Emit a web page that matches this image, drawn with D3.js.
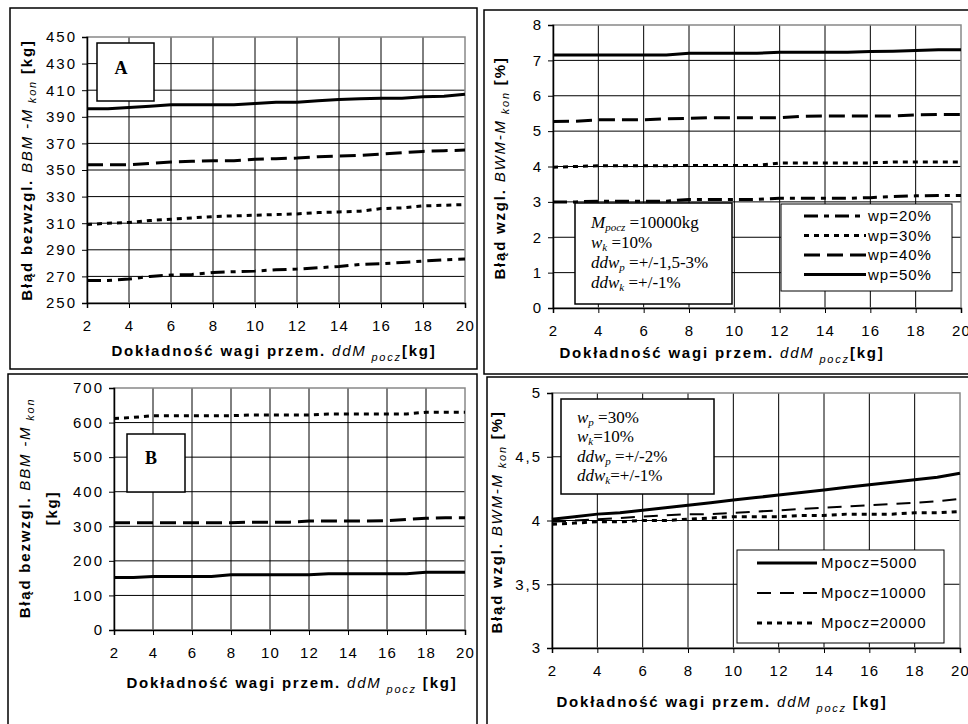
<!DOCTYPE html>
<html lang="pl">
<head>
<meta charset="UTF-8">
<title>Błąd ważenia</title>
<script src="https://cdn.jsdelivr.net/npm/d3@7/dist/d3.min.js"></script>
<style>
  body { margin: 0; background: #fff; }
  svg { display: block; }
  .tick text { font-family: "Liberation Sans", Arial, sans-serif; font-size: 15px; letter-spacing: 1.2px; }
  .yax .tick text { letter-spacing: 2px; }
  .title { font-family: "Liberation Sans", Arial, sans-serif; font-size: 15px; font-weight: bold; letter-spacing: 1.8px; }
  .note { font-family: "Liberation Serif", "Times New Roman", serif; font-size: 17px; }
  .leg { font-family: "Liberation Sans", Arial, sans-serif; font-size: 15px; letter-spacing: 1px; }
</style>
</head>
<body>
<svg width="968" height="724" id="mainsvg"></svg>
<script>
// wspólna oś X
const xVals = [2,3,4,5,6,7,8,9,10,11,12,13,14,15,16,17,18,19,20];
const xTicks = [2,4,6,8,10,12,14,16,18,20];

// A: BBM-Mkon [kg], Mpocz=10000
const aWp20 = [267,267,268,270,271,271.5,273,273.5,274,275,275.5,276.5,277.5,279,279.5,280.5,281.5,282.5,283];
const aWp30 = [309,310,310.5,312,313,314,315,315.5,316,316.5,317,318,318.5,319,321,321.5,323,323.5,324];
const aWp40 = [354,354,354,355,356,356.5,357,357,358,358.5,359,360,360.5,361,362,363,364,364.5,365];
const aWp50 = [396,396,397,398,399,399,399,399,400,401,401,402,403,403.5,404,404,405,405.5,407];
const aTicks = [250,270,290,310,330,350,370,390,410,430,450];

// B (prawy górny): BWM-Mkon [%]
const bWp20 = [3.0,3.0,3.02,3.02,3.02,3.02,3.07,3.07,3.07,3.07,3.1,3.1,3.1,3.1,3.12,3.15,3.17,3.18,3.18];
const bWp30 = [3.98,4.0,4.02,4.02,4.02,4.02,4.03,4.03,4.03,4.03,4.1,4.1,4.1,4.1,4.1,4.13,4.13,4.13,4.13];
const bWp40 = [5.27,5.28,5.32,5.32,5.32,5.35,5.36,5.38,5.38,5.38,5.38,5.42,5.43,5.43,5.43,5.43,5.46,5.47,5.47];
const bWp50 = [7.15,7.15,7.15,7.15,7.15,7.15,7.2,7.2,7.2,7.2,7.23,7.23,7.23,7.23,7.25,7.26,7.28,7.3,7.3];
const bTicks = [0,1,2,3,4,5,6,7,8];

// C (lewy dolny, "B"): BBM-Mkon [kg]
const cM5000 = [152,152,155,155,155,155,160,160,160,160,160,163,163,163,163,163,167,167,167];
const cM10000 = [310,310,310,310,310,310,310,312,312,312,315,315,315,315,316,320,323,325,325];
const cM20000 = [612,615,620,620,620,620,620,622,622,622,622,625,625,625,625,625,630,630,630];
const cTicks = [0,100,200,300,400,500,600,700];

// D (prawy dolny): BWM-Mkon [%]
const dM5000 = [4.01,4.03,4.05,4.06,4.08,4.10,4.12,4.14,4.16,4.18,4.20,4.22,4.24,4.26,4.28,4.30,4.32,4.34,4.37];
const dM10000 = [3.99,4.0,4.01,4.02,4.03,4.04,4.05,4.05,4.06,4.07,4.08,4.09,4.10,4.11,4.12,4.13,4.14,4.15,4.17];
const dM20000 = [3.97,3.98,3.99,3.99,4.0,4.0,4.01,4.02,4.03,4.03,4.03,4.04,4.04,4.05,4.05,4.05,4.06,4.06,4.07];
const dTicks = [3,3.5,4,4.5,5];

const svg = d3.select('svg');
const fmtComma = d => String(d).replace('.', ',');

// style linii
const st = {
  solid:    {dash: null, w: 3},
  longDash: {dash: '16,7', w: 3},
  dots:     {dash: '5,5', w: 3},
  dashDot:  {dash: '14,6,5,6', w: 3},
  thinDash: {dash: '14,9', w: 2}
};

// ramki paneli
[[10,8,467,361],[484,10,490,364],[8,374,469,360],[487,377,490,360]].forEach(r => {
  svg.append('rect').attr('x', r[0]).attr('y', r[1]).attr('width', r[2]).attr('height', r[3])
    .attr('fill', 'none').attr('stroke', '#000').attr('stroke-width', 1.5);
});

function panel(p) {
  const x = d3.scaleLinear().domain([2, 20]).range([p.x0, p.x1]);
  const y = d3.scaleLinear().domain(p.yDomain).range([p.y1, p.y0]);
  const g = svg.append('g');

  // siatka
  g.append('g').selectAll('line').data(xTicks.slice(1, -1)).join('line')
    .attr('x1', d => x(d)).attr('x2', d => x(d)).attr('y1', p.y0).attr('y2', p.y1)
    .attr('stroke', '#000').attr('stroke-width', 1);
  g.append('g').selectAll('line').data(p.yTicks.slice(1, -1)).join('line')
    .attr('x1', p.x0).attr('x2', p.x1).attr('y1', d => y(d)).attr('y2', d => y(d))
    .attr('stroke', '#000').attr('stroke-width', 1);
  g.append('rect').attr('x', p.x0).attr('y', p.y0).attr('width', p.x1 - p.x0).attr('height', p.y1 - p.y0)
    .attr('fill', 'none').attr('stroke', '#888').attr('stroke-width', 1.5);

  // osie
  const xa = g.append('g').attr('transform', `translate(0,${p.y1})`)
    .call(d3.axisBottom(x).tickValues(xTicks).tickSize(5).tickPadding(p.xPad || 12));
  const ya = g.append('g').attr('class', 'yax').attr('transform', `translate(${p.x0},0)`)
    .call(d3.axisLeft(y).tickValues(p.yTicks).tickSize(5).tickPadding(5).tickFormat(p.yFmt || (d => d)));
  [xa, ya].forEach(a => {
    a.select('.domain').attr('stroke', '#000').attr('stroke-width', 1.5);
    a.selectAll('.tick line').attr('stroke', '#000');
    a.selectAll('.tick text').attr('fill', '#000');
  });

  // serie
  const line = d3.line().x((d, i) => x(xVals[i])).y(d => y(d));
  p.series.forEach(s => {
    g.append('path').datum(s.v).attr('d', line).attr('fill', 'none')
      .attr('stroke', '#000').attr('stroke-width', s.st.w)
      .attr('stroke-dasharray', s.st.dash);
  });

  // tytuł osi X
  const xt = g.append('text').attr('class', 'title').attr('text-anchor', 'middle')
    .attr('x', p.xtX).attr('y', p.xtY);
  xt.append('tspan').text('Dokładność wagi przem. ');
  xt.append('tspan').attr('font-style', 'italic').attr('font-weight', 'normal').text('ddM');
  xt.append('tspan').attr('font-style', 'italic').attr('font-weight', 'normal')
    .attr('font-size', '11px').attr('dy', 5).text(' pocz');
  xt.append('tspan').attr('dy', -5).text(p.xtGap ? '  [kg]' : '[kg]');

  // tytuł osi Y
  const yt = g.append('text').attr('class', 'title').attr('text-anchor', 'middle')
    .attr('transform', `translate(${p.ytX},${p.ytY}) rotate(-90)`);
  yt.append('tspan').text(p.yPrefix + ' ');
  yt.append('tspan').attr('font-style', 'italic').attr('font-weight', 'normal').text(p.yVar + '-M');
  yt.append('tspan').attr('font-style', 'italic').attr('font-weight', 'normal')
    .attr('font-size', '11px').attr('dy', 4).text(' kon');
  if (p.ySuffix2) {
    g.append('text').attr('class', 'title').attr('text-anchor', 'middle')
      .attr('transform', `translate(${p.ytX + 27},${p.ytY}) rotate(-90)`).text(p.ySuffix2);
  } else {
    yt.append('tspan').attr('dy', -4).text(' ' + p.ySuffix);
  }
  return {x, y, g};
}

// ---- A ----
const A = panel({
  x0: 87, x1: 465, y0: 37, y1: 303, yDomain: [250, 450], yTicks: aTicks,
  series: [{v: aWp20, st: st.dashDot}, {v: aWp30, st: st.dots}, {v: aWp40, st: st.longDash}, {v: aWp50, st: st.solid}],
  xtX: 274, xtY: 356, ytX: 32, ytY: 170,
  yPrefix: 'Błąd bezwzgl.', yVar: 'BBM ', ySuffix: '[kg]'
});
A.g.append('rect').attr('x', 97).attr('y', 43).attr('width', 57).attr('height', 58)
  .attr('fill', '#fff').attr('stroke', '#000').attr('stroke-width', 1.5);
A.g.append('text').attr('x', 121).attr('y', 74).attr('text-anchor', 'middle')
  .attr('font-family', '"Liberation Serif", serif').attr('font-weight', 'bold').attr('font-size', 18).text('A');

// ---- prawy górny ----
const B = panel({
  x0: 553, x1: 961, y0: 25, y1: 308, yDomain: [0, 8], yTicks: bTicks,
  series: [{v: bWp20, st: st.dashDot}, {v: bWp30, st: st.dots}, {v: bWp40, st: st.longDash}, {v: bWp50, st: st.solid}],
  xtX: 722, xtY: 358, ytX: 505, ytY: 168,
  yPrefix: 'Błąd wzgl.', yVar: 'BWM', ySuffix: '[%]'
});
// ramka z parametrami
B.g.append('rect').attr('x', 575).attr('y', 203).attr('width', 157).attr('height', 101)
  .attr('fill', '#fff').attr('stroke', '#000').attr('stroke-width', 1.5);
const bNotes = [['M', 'pocz', ' =10000kg'], ['w', 'k', ' =10%'], ['ddw', 'p', ' =+/-1,5-3%'], ['ddw', 'k', ' =+/-1%']];
bNotes.forEach((n, i) => {
  const t = B.g.append('text').attr('class', 'note').attr('x', 591).attr('y', 228 + i * 20);
  t.append('tspan').attr('font-style', 'italic').text(n[0]);
  t.append('tspan').attr('font-style', 'italic').attr('font-size', 11).attr('dy', 3).text(n[1]);
  t.append('tspan').attr('dy', -3).text(n[2]);
});
// legenda
B.g.append('rect').attr('x', 781).attr('y', 204).attr('width', 171).attr('height', 87)
  .attr('fill', '#fff').attr('stroke', '#000').attr('stroke-width', 1);
const bLeg = [['wp=20%', st.dashDot], ['wp=30%', st.dots], ['wp=40%', st.longDash], ['wp=50%', st.solid]];
bLeg.forEach((l, i) => {
  const yy = 216 + i * 19.5;
  B.g.append('line').attr('x1', 804).attr('x2', 866).attr('y1', yy).attr('y2', yy)
    .attr('stroke', '#000').attr('stroke-width', l[1].w).attr('stroke-dasharray', l[1].dash);
  B.g.append('text').attr('class', 'leg').attr('x', 868).attr('y', yy + 5).text(l[0]);
});

// ---- lewy dolny ("B") ----
const C = panel({
  x0: 114, x1: 465, y0: 388, y1: 630, yDomain: [0, 700], yTicks: cTicks,
  series: [{v: cM5000, st: st.solid}, {v: cM10000, st: st.longDash}, {v: cM20000, st: st.dots}],
  xtX: 292, xtY: 688, ytX: 30, ytY: 508, xtGap: true,
  yPrefix: 'Błąd bezwzgl.', yVar: 'BBM ', ySuffix2: '[kg]'
});
C.g.append('rect').attr('x', 127).attr('y', 434).attr('width', 58).attr('height', 58)
  .attr('fill', '#fff').attr('stroke', '#000').attr('stroke-width', 1.5);
C.g.append('text').attr('x', 151).attr('y', 464).attr('text-anchor', 'middle')
  .attr('font-family', '"Liberation Serif", serif').attr('font-weight', 'bold').attr('font-size', 18).text('B');

// ---- prawy dolny ----
const D = panel({
  x0: 552, x1: 960, y0: 393, y1: 648, yDomain: [3, 5], yTicks: dTicks, yFmt: fmtComma,
  series: [{v: dM20000, st: st.dots}, {v: dM10000, st: st.thinDash}, {v: dM5000, st: st.solid}],
  xtX: 722, xtY: 707, ytX: 502, ytY: 522, xtGap: true,
  yPrefix: 'Błąd wzgl.', yVar: 'BWM', ySuffix: '[%]'
});
D.g.append('rect').attr('x', 561).attr('y', 399).attr('width', 153).attr('height', 95)
  .attr('fill', '#fff').attr('stroke', '#000').attr('stroke-width', 1.5);
const dNotes = [['w', 'p', ' =30%'], ['w', 'k', '=10%'], ['ddw', 'p', ' =+/-2%'], ['ddw', 'k', '=+/-1%']];
dNotes.forEach((n, i) => {
  const t = D.g.append('text').attr('class', 'note').attr('x', 577).attr('y', 423 + i * 19.3);
  t.append('tspan').attr('font-style', 'italic').text(n[0]);
  t.append('tspan').attr('font-style', 'italic').attr('font-size', 11).attr('dy', 3).text(n[1]);
  t.append('tspan').attr('dy', -3).text(n[2]);
});
D.g.append('rect').attr('x', 737).attr('y', 550).attr('width', 207).attr('height', 93)
  .attr('fill', '#fff').attr('stroke', '#000').attr('stroke-width', 1);
const dLeg = [['Mpocz=5000', st.solid], ['Mpocz=10000', st.thinDash], ['Mpocz=20000', st.dots]];
dLeg.forEach((l, i) => {
  const yy = 563 + i * 30;
  D.g.append('line').attr('x1', 757).attr('x2', 817).attr('y1', yy).attr('y2', yy)
    .attr('stroke', '#000').attr('stroke-width', l[1].w).attr('stroke-dasharray', l[1].dash);
  D.g.append('text').attr('class', 'leg').attr('x', 821).attr('y', yy + 5).text(l[0]);
});
</script>
</body>
</html>
